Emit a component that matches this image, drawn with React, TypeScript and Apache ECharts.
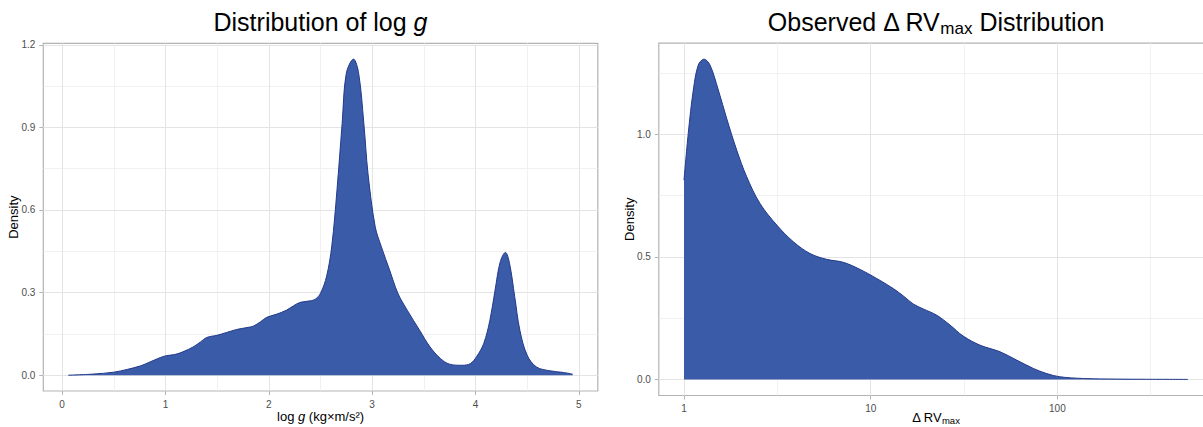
import React, { useEffect, useRef } from "react";
import * as echarts from "echarts";

// ---- Data: density of log g ----
const loggX = [0.06, 0.30, 0.50, 0.63, 0.76, 0.85, 0.95, 1.01, 1.09, 1.17, 1.27, 1.34, 1.40, 1.50, 1.59, 1.69, 1.79, 1.85, 1.92, 1.98, 2.08, 2.17, 2.24, 2.30, 2.40, 2.45, 2.50, 2.56, 2.61, 2.66, 2.71, 2.75, 2.82, 2.87, 2.92, 2.96, 3.03, 3.09, 3.17, 3.25, 3.34, 3.46, 3.56, 3.66, 3.75, 3.87, 3.95, 4.01, 4.08, 4.14, 4.19, 4.24, 4.29, 4.33, 4.38, 4.43, 4.50, 4.59, 4.72, 4.85, 4.94];
const loggD = [0.000, 0.004, 0.011, 0.021, 0.034, 0.048, 0.064, 0.071, 0.075, 0.085, 0.103, 0.121, 0.137, 0.145, 0.155, 0.166, 0.173, 0.178, 0.194, 0.210, 0.222, 0.236, 0.252, 0.264, 0.270, 0.276, 0.297, 0.360, 0.470, 0.672, 0.914, 1.096, 1.148, 1.096, 0.914, 0.733, 0.539, 0.466, 0.381, 0.297, 0.236, 0.163, 0.103, 0.061, 0.040, 0.036, 0.042, 0.067, 0.115, 0.200, 0.309, 0.412, 0.446, 0.406, 0.285, 0.163, 0.073, 0.030, 0.016, 0.010, 0.004];

// ---- Data: density of observed delta RV max (log x axis) ----
const rvX = [1, 1.054, 1.122, 1.193, 1.28, 1.378, 1.527, 1.693, 1.915, 2.167, 2.553, 3.14, 3.85, 4.73, 5.81, 7.13, 8.77, 10.77, 13.2, 15.0, 16.9, 19.1, 22.6, 26.6, 31.3, 38.5, 49.3, 60.5, 74.3, 87.7, 103, 138, 208, 300, 500];
const rvD = [0.813, 1.004, 1.181, 1.283, 1.307, 1.283, 1.181, 1.065, 0.936, 0.827, 0.718, 0.630, 0.562, 0.514, 0.490, 0.478, 0.449, 0.412, 0.371, 0.340, 0.308, 0.288, 0.262, 0.222, 0.177, 0.140, 0.113, 0.079, 0.045, 0.024, 0.011, 0.004, 0.0015, 0.0008, 0.0003];

// ---- Ticks ----
const loggXTicks = [0, 1, 2, 3, 4, 5];
const loggXMinor = [0.5, 1.5, 2.5, 3.5, 4.5];
const loggYTicks = [0, 0.3, 0.6, 0.9, 1.2];
const loggYMinor = [0.15, 0.45, 0.75, 1.05];
const rvXTicks = [1, 10, 100];
const rvXMinor = [3.1623, 31.623, 316.23];
const rvYTicks = [0, 0.5, 1];
const rvYMinor = [0.25, 0.75, 1.25];

const FONT = '"Liberation Sans", Arial, Helvetica, sans-serif';
const FILL = "#3A5BA8";
const LINE = "#22398A";
const BORDER = "#B3B3B3";
const TICKTXT = "#4D4D4D";

function gridLines(xMajor: number[], xMinor: number[], yMajor: number[], yMinor: number[]) {
  const major = { color: "#E4E4E4", width: 1, type: "solid" };
  const minor = { color: "#EEEEEE", width: 0.8, type: "solid" };
  return {
    silent: true,
    z: 1,
    symbol: ["none", "none"],
    label: { show: false },
    emphasis: { disabled: true },
    animation: false,
    data: [
      ...xMinor.map((v) => ({ xAxis: v, lineStyle: minor })),
      ...yMinor.map((v) => ({ yAxis: v, lineStyle: minor })),
      ...xMajor.map((v) => ({ xAxis: v, lineStyle: major })),
      ...yMajor.map((v) => ({ yAxis: v, lineStyle: major })),
    ],
  };
}

const axisNameStyle = { fontSize: 13, color: "#000", fontFamily: FONT };

export default function App() {
  const ref = useRef<HTMLDivElement>(null);
  useEffect(() => {
    if (!ref.current) return;
    const chart = echarts.init(ref.current, undefined, { renderer: "svg" });
    const tick = (vals: number[]) => ({ show: true, length: 4, lineStyle: { color: BORDER, width: 1 }, customValues: vals });
    const label = (vals: number[], fmt: (v: number) => string) => ({
      customValues: vals,
      color: TICKTXT,
      fontSize: 10,
      fontFamily: FONT,
      margin: 8,
      formatter: fmt,
    });
    chart.setOption({
      animation: false,
      backgroundColor: "#fff",
      graphic: [
        {
          type: "text",
          x: 320.5,
          y: 7,
          style: {
            text: "Distribution of log {i|g}",
            fontSize: 25,
            fontFamily: FONT,
            fill: "#000",
            align: "center",
            verticalAlign: "top",
            lineHeight: 30,
            rich: { i: { fontStyle: "italic", fontSize: 25, fontFamily: FONT, lineHeight: 30, fill: "#000" } },
          },
        },
        {
          type: "text",
          x: 935.8,
          y: 7,
          style: {
            text: "Observed \u0394 RV{sub|max} Distribution",
            fontSize: 25,
            fontFamily: FONT,
            fill: "#000",
            align: "center",
            verticalAlign: "top",
            lineHeight: 30,
            rich: { sub: { fontSize: 17, fontFamily: FONT, lineHeight: 16, verticalAlign: "bottom", fill: "#000" } },
          },
        },
      ],
      grid: [
        { left: 43.3, top: 43.3, width: 554.5, height: 347.7, show: true, borderColor: BORDER, borderWidth: 1.2, backgroundColor: "#fff", containLabel: false, outerBoundsMode: "none" },
        { left: 658.8, top: 43.1, width: 554.1, height: 352.4, show: true, borderColor: BORDER, borderWidth: 1.2, backgroundColor: "#fff", containLabel: false, outerBoundsMode: "none" },
      ],
      xAxis: [
        {
          type: "value",
          gridIndex: 0,
          min: -0.182,
          max: 5.184,
          axisLine: { show: false, onZero: false },
          axisTick: tick(loggXTicks),
          axisLabel: label(loggXTicks, (v: number) => String(Math.round(v))),
          splitLine: { show: false },
          name: "log {i|g} (kg\u00d7m/s\u00b2)",
          nameLocation: "middle",
          nameGap: 17,
          nameMoveOverlap: false,
          nameTextStyle: {
            ...axisNameStyle,
            lineHeight: 16,
            rich: { i: { fontStyle: "italic", fontSize: 13, fontFamily: FONT, color: "#000", lineHeight: 16 } },
          },
        },
        {
          type: "log",
          logBase: 10,
          gridIndex: 1,
          min: 0.7329,
          max: 680.7,
          axisLine: { show: false, onZero: false },
          axisTick: tick(rvXTicks),
          axisLabel: label(rvXTicks, (v: number) => String(Math.round(v))),
          splitLine: { show: false },
          minorSplitLine: { show: false },
          name: "\u0394 RV{sub|max}",
          nameLocation: "middle",
          nameGap: 14,
          nameMoveOverlap: false,
          nameTextStyle: {
            ...axisNameStyle,
            lineHeight: 16,
            rich: { sub: { fontSize: 9.5, fontFamily: FONT, color: "#000", lineHeight: 10, verticalAlign: "bottom" } },
          },
        },
      ],
      yAxis: [
        {
          type: "value",
          gridIndex: 0,
          min: -0.0574,
          max: 1.2054,
          axisLine: { show: false, onZero: false },
          axisTick: tick(loggYTicks),
          axisLabel: label(loggYTicks, (v: number) => v.toFixed(1)),
          splitLine: { show: false },
          name: "Density",
          nameLocation: "middle",
          nameGap: 23,
          nameMoveOverlap: false,
          nameTextStyle: axisNameStyle,
        },
        {
          type: "value",
          gridIndex: 1,
          min: -0.0654,
          max: 1.3724,
          axisLine: { show: false, onZero: false },
          axisTick: tick(rvYTicks),
          axisLabel: label(rvYTicks, (v: number) => v.toFixed(1)),
          splitLine: { show: false },
          name: "Density",
          nameLocation: "middle",
          nameGap: 23,
          nameMoveOverlap: false,
          nameTextStyle: axisNameStyle,
        },
      ],
      series: [
        {
          type: "line",
          xAxisIndex: 0,
          yAxisIndex: 0,
          z: 2,
          data: loggX.map((x, i) => [x, loggD[i]]),
          smooth: 0.35,
          symbol: "none",
          silent: true,
          lineStyle: { color: LINE, width: 1 },
          areaStyle: { color: FILL, opacity: 1 },
          markLine: gridLines(loggXTicks, loggXMinor, loggYTicks, loggYMinor),
        },
        {
          type: "line",
          xAxisIndex: 1,
          yAxisIndex: 1,
          z: 2,
          data: rvX.map((x, i) => [x, rvD[i]]),
          smooth: 0.35,
          symbol: "none",
          silent: true,
          lineStyle: { color: LINE, width: 1 },
          areaStyle: { color: FILL, opacity: 1 },
          markLine: gridLines(rvXTicks, rvXMinor, rvYTicks, rvYMinor),
        },
      ],
    });
    return () => chart.dispose();
  }, []);
  return (
    <div
      ref={ref}
      style={{ position: "fixed", left: 0, top: 0, width: 1203, height: 427, background: "#fff" }}
    />
  );
}
